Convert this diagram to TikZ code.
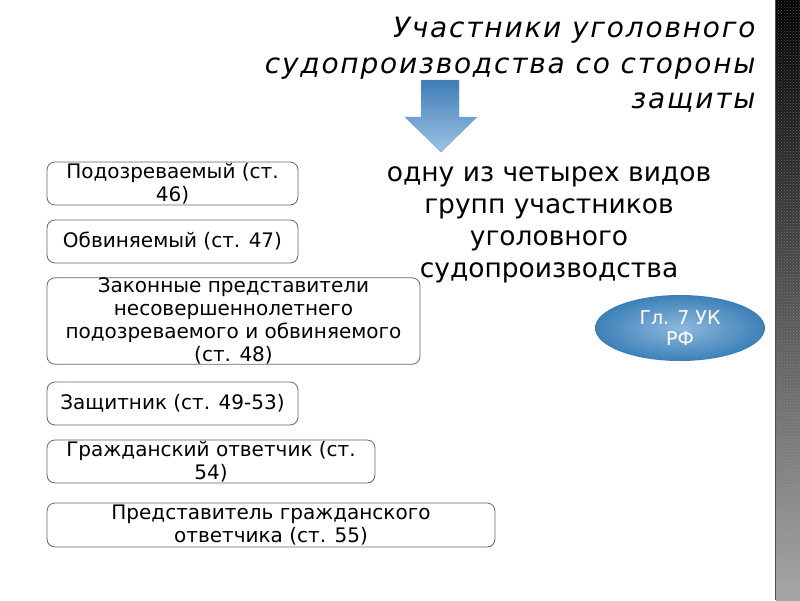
\documentclass[tikz,border=0pt]{standalone}
\usepackage{fontspec}
\setmainfont{DejaVu Sans}
\usetikzlibrary{shapes.geometric,patterns}
\definecolor{boxline}{HTML}{6F655C}
\definecolor{arrowtop}{HTML}{3F7DB6}
\definecolor{arrowbot}{HTML}{9DC3E3}
\definecolor{ovalout}{HTML}{3C80B8}
\definecolor{ovalin}{HTML}{8DB9DD}
\begin{document}
\begin{tikzpicture}[x=1pt, y=-1pt,
  part/.style={draw=boxline, line width=0.8pt, rounded corners=8pt, fill=white, align=center, inner sep=0pt,
    font=\fontsize{20}{23}\selectfont},
  ttl/.style={anchor=base east, font=\fontsize{28}{34}\selectfont\itshape\addfontfeature{LetterSpace=6.4}},
  grp/.style={anchor=base, font=\fontsize{26.5}{31}\selectfont}]
\useasboundingbox (0,0) rectangle (800,600);
% dark strip on the right
\shade[top color=black, bottom color=gray!70] (776,0) rectangle (800,600);
\fill[pattern=crosshatch dots, pattern color=gray!70, opacity=0.5] (776,0) rectangle (800,600);
\draw[black!70, line width=1pt] (775,0) -- (775,600);
% title
\foreach \n/\yb/\l in {t1/37/Участники уголовного,t2/73/судопроизводства со стороны,t3/108/защиты}
  \node[ttl] (\n) at (759,\yb) {\l};
% block arrow
\shade[top color=arrowtop, bottom color=arrowbot, draw=arrowtop!70]
  (421,80) -- (459,80) -- (459,117) -- (477,117) -- (441,152) -- (405,117) -- (421,117) -- cycle;
% participants
\foreach \n/\cx/\cy/\w/\h/\t in {
    susp/172.5/183.5/251/43/Подозреваемый (ст.\\46),
    accd/172.5/241.5/251/43/Обвиняемый (ст. 47),
    legl/233.5/321/373/82/Законные представители\\несовершеннолетнего\\подозреваемого и обвиняемого\\(ст. 48),
    dfnd/172.5/403.5/251/43/Защитник (ст. 49-53),
    civd/211/461.5/328/43/Гражданский ответчик (ст.\\54),
    civr/271/525/448/44/Представитель гражданского\\ответчика (ст. 55)}
  \node[part, minimum width=\w pt, minimum height=\h pt] (\n) at (\cx,\cy) {\t};
% group text
\foreach \n/\yb/\l in {g1/181/одну из четырех видов,g2/213/групп участников,g3/245/уголовного,g4/277/судопроизводства}
  \node[grp] (\n) at (549,\yb) {\l};
\node[ellipse, minimum width=170pt, minimum height=66pt, inner color=ovalin, outer color=ovalout,
  text=white, align=center, font=\fontsize{19}{21}\selectfont] (ch7) at (680,328) {Гл. 7 УК\\РФ};
\end{tikzpicture}
\end{document}
